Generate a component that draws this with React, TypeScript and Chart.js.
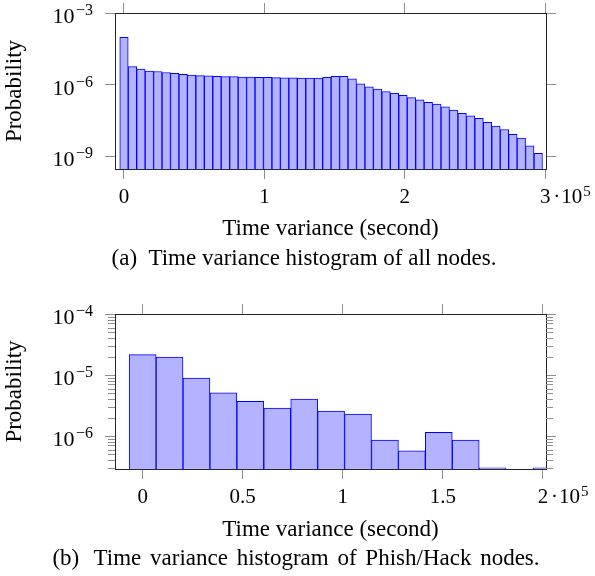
import React, { useEffect, useRef } from 'react';
import { Chart, registerables } from 'chart.js';

Chart.register(...registerables);

const FONT = "'Liberation Serif', 'Times New Roman', serif";
const TICK_GRAY = '#8f8f8f';
const AXIS_COLOR = '#262626';
const BAR_FILL = 'rgb(179,179,255)';
const BAR_EDGE = '#0000ff';

// ---- (a) all nodes ----
const allBinWidth = 6020; // seconds per histogram bin
const allProb = [
  9.5e-5, 5.6e-6, 4.4e-6, 3.7e-6, 3.5e-6, 3.2e-6, 2.95e-6, 2.7e-6, 2.5e-6, 2.35e-6,
  2.3e-6, 2.2e-6, 2.15e-6, 2.15e-6, 2.05e-6, 2.05e-6, 2.0e-6, 2.0e-6, 1.95e-6, 1.9e-6,
  1.9e-6, 1.86e-6, 1.86e-6, 1.86e-6, 2.0e-6, 2.2e-6, 2.2e-6, 1.74e-6, 1.07e-6, 7.9e-7,
  6.5e-7, 5.1e-7, 4.3e-7, 3.5e-7, 2.8e-7, 2.3e-7, 1.8e-7, 1.5e-7, 1.15e-7, 8.5e-8,
  6.2e-8, 4.8e-8, 3.8e-8, 2.6e-8, 1.8e-8, 1.3e-8, 8.1e-9, 5.6e-9, 2.7e-9, 1.3e-9,
];
const allXTicks = [0, 100000, 200000, 300000];
const allYTicks = [1e-9, 1e-6, 1e-3];

// ---- (b) Phish/Hack nodes ----
const phishBinWidth = 13450;
const phishProb = [
  2.16e-5, 1.96e-5, 8.9e-6, 5.1e-6, 3.7e-6, 2.86e-6, 4.04e-6, 2.57e-6, 2.28e-6, 8.6e-7,
  5.7e-7, 1.15e-6, 8.6e-7, 3.0e-7, null, 3.0e-7,
];
const phishXTicks = [0, 50000, 100000, 150000, 200000];
const phishYTicks = [1e-6, 1e-5, 1e-4];

const X_TITLE = 'Time variance (second)';
const Y_TITLE = 'Probability';
const SCALE_FACTOR_EXP = 5;

type Spec = {
  values: (number | null)[];
  binWidth: number;
  xMin: number;
  xMax: number;
  yMin: number;
  yMax: number;
  xTicks: number[];
  yTicks: number[];
  minorTicks: boolean;
  plotTop: number;
  plotBottom: number;
  height: number;
};

function minorValues(yMin: number, yMax: number) {
  const out: number[] = [];
  for (let e = Math.floor(Math.log10(yMin)); e < Math.ceil(Math.log10(yMax)); e++) {
    for (let k = 2; k <= 9; k++) {
      const v = k * Math.pow(10, e);
      if (v > yMin && v < yMax) out.push(v);
    }
  }
  return out;
}

function texPlugin(spec: Spec) {
  return {
    id: 'texLabels',
    afterDraw(chart: any) {
      const { ctx, chartArea } = chart;
      const y = chart.scales.y;
      const x = chart.scales.x;
      ctx.save();
      // minor log ticks
      if (spec.minorTicks) {
        ctx.strokeStyle = TICK_GRAY;
        ctx.lineWidth = 1;
        ctx.beginPath();
        for (const v of minorValues(spec.yMin, spec.yMax)) {
          const py = Math.round(y.getPixelForValue(v)) + 0.5;
          ctx.moveTo(chartArea.left - 7, py);
          ctx.lineTo(chartArea.left, py);
          ctx.moveTo(chartArea.right, py);
          ctx.lineTo(chartArea.right + 7, py);
        }
        ctx.stroke();
      }
      // y tick labels 10^-n
      ctx.fillStyle = '#000';
      ctx.textBaseline = 'alphabetic';
      for (const v of spec.yTicks) {
        const py = y.getPixelForValue(v);
        const exp = '\u2212' + Math.round(-Math.log10(v));
        ctx.font = `22px ${FONT}`;
        const wBase = ctx.measureText('10').width;
        ctx.font = `16px ${FONT}`;
        const wExp = ctx.measureText(exp).width;
        const right = chartArea.left - 22;
        const xExp = right - wExp;
        const xBase = xExp - wBase - 1.5;
        ctx.font = `22px ${FONT}`;
        ctx.fillText('10', xBase, py + 10);
        ctx.font = `16px ${FONT}`;
        ctx.fillText(exp, xExp, py + 2);
      }
      // scale factor ·10^5 next to last x tick label
      const last = spec.xTicks[spec.xTicks.length - 1];
      const px = x.getPixelForValue(last);
      const midY = x.top + 10 + 6 + 12.6;
      ctx.textBaseline = 'middle';
      ctx.font = `21px ${FONT}`;
      const start = px + 8;
      ctx.fillText('\u00b7', start, midY);
      const wDot = ctx.measureText('\u00b7').width;
      ctx.fillText('10', start + wDot + 1, midY);
      const w10 = ctx.measureText('10').width;
      ctx.font = `15px ${FONT}`;
      ctx.fillText(String(SCALE_FACTOR_EXP), start + wDot + 1 + w10 + 1, midY - 6);
      ctx.restore();
    },
  };
}

function buildChart(canvas: HTMLCanvasElement, spec: Spec) {
  const data = spec.values.map((v, i) => ({ x: i * spec.binWidth, y: v }));
  const setTicks = (vals: number[]) => (scale: any) => {
    scale.ticks = vals.map((v) => ({ value: v }));
  };
  const grid = {
    display: true,
    drawOnChartArea: false,
    drawTicks: true,
    tickLength: 10,
    color: TICK_GRAY,
    tickColor: TICK_GRAY,
    lineWidth: 1,
    offset: false,
  };
  const border = { display: true, color: AXIS_COLOR, width: 1 };
  const leftW = 115;
  const rightW = 49;
  return new Chart(canvas, {
    type: 'bar',
    data: {
      datasets: [
        {
          data: data as any,
          backgroundColor: BAR_FILL,
          borderColor: BAR_EDGE,
          borderWidth: 1,
          barPercentage: 1,
          categoryPercentage: 1,
          xAxisID: 'x',
          yAxisID: 'y',
        },
      ],
    },
    options: {
      animation: false,
      responsive: false,
      devicePixelRatio: 1,
      layout: { padding: 0 },
      plugins: { legend: { display: false }, tooltip: { enabled: false } },
      scales: {
        x: {
          type: 'linear',
          position: 'bottom',
          min: spec.xMin,
          max: spec.xMax,
          offset: false,
          bounds: 'data',
          grid,
          border,
          afterBuildTicks: setTicks(spec.xTicks),
          afterFit: (s: any) => {
            s.height = spec.height - spec.plotBottom;
          },
          ticks: {
            color: '#000',
            font: { family: FONT, size: 21 },
            padding: 6,
            maxRotation: 0,
            autoSkip: false,
            callback: (v: any) => String(Number(v) / 1e5),
          },
          title: {
            display: true,
            text: X_TITLE,
            color: '#000',
            font: { family: FONT, size: 23 },
            padding: { top: 0, bottom: 3 },
          },
        },
        x2: {
          type: 'linear',
          position: 'top',
          min: spec.xMin,
          max: spec.xMax,
          offset: false,
          bounds: 'data',
          grid,
          border,
          afterBuildTicks: setTicks(spec.xTicks),
          afterFit: (s: any) => {
            s.height = spec.plotTop;
          },
          ticks: { display: false },
        },
        y: {
          type: 'logarithmic',
          position: 'left',
          min: spec.yMin,
          max: spec.yMax,
          bounds: 'data',
          grid,
          border,
          afterBuildTicks: setTicks(spec.yTicks),
          afterFit: (s: any) => {
            s.width = leftW;
          },
          ticks: { display: false },
          title: {
            display: true,
            text: Y_TITLE,
            color: '#000',
            font: { family: FONT, size: 23 },
            padding: { top: 1, bottom: 0 },
          },
        },
        y2: {
          type: 'logarithmic',
          position: 'right',
          min: spec.yMin,
          max: spec.yMax,
          bounds: 'data',
          grid,
          border,
          afterBuildTicks: setTicks(spec.yTicks),
          afterFit: (s: any) => {
            s.width = rightW;
          },
          ticks: { display: false },
        },
      },
    } as any,
    plugins: [texPlugin(spec)],
  });
}

function HistChart({ spec, top }: { spec: Spec; top: number }) {
  const ref = useRef<HTMLCanvasElement | null>(null);
  useEffect(() => {
    if (!ref.current) return;
    const chart = buildChart(ref.current, spec);
    return () => chart.destroy();
  }, []);
  return (
    <canvas
      ref={ref}
      width={595}
      height={spec.height}
      style={{ position: 'absolute', left: 0, top, width: 595, height: spec.height, display: 'block' }}
    />
  );
}

const specA: Spec = {
  values: allProb,
  binWidth: allBinWidth,
  xMin: -6400,
  xMax: 300500,
  yMin: 2.85e-10,
  yMax: 1e-3,
  xTicks: allXTicks,
  yTicks: allYTicks,
  minorTicks: false,
  plotTop: 13,
  plotBottom: 169,
  height: 246,
};

const specB: Spec = {
  values: phishProb,
  binWidth: phishBinWidth,
  xMin: -13800,
  xMax: 201500,
  yMin: 2.88e-7,
  yMax: 1e-4,
  xTicks: phishXTicks,
  yTicks: phishYTicks,
  minorTicks: true,
  plotTop: 24,
  plotBottom: 179,
  height: 257,
};

const captionStyle = (cx: number, top: number, wordSpacing = 0): React.CSSProperties => ({
  position: 'absolute',
  left: cx,
  top,
  transform: 'translateX(-50%)',
  whiteSpace: 'nowrap',
  fontFamily: FONT,
  fontSize: 23,
  lineHeight: '26px',
  color: '#000',
  wordSpacing,
});

export default function App() {
  return (
    <div style={{ position: 'absolute', left: 0, top: 0, width: 595, height: 576, background: '#fff', overflow: 'hidden' }}>
      <HistChart spec={specA} top={0} />
      <div style={captionStyle(304, 245)}>
        <span style={{ marginRight: 6 }}>(a)</span> Time variance histogram of all nodes.
      </div>
      <HistChart spec={specB} top={290} />
      <div style={captionStyle(296, 545, 3)}>
        <span style={{ marginRight: 6 }}>(b)</span> Time variance histogram of Phish/Hack nodes.
      </div>
    </div>
  );
}
